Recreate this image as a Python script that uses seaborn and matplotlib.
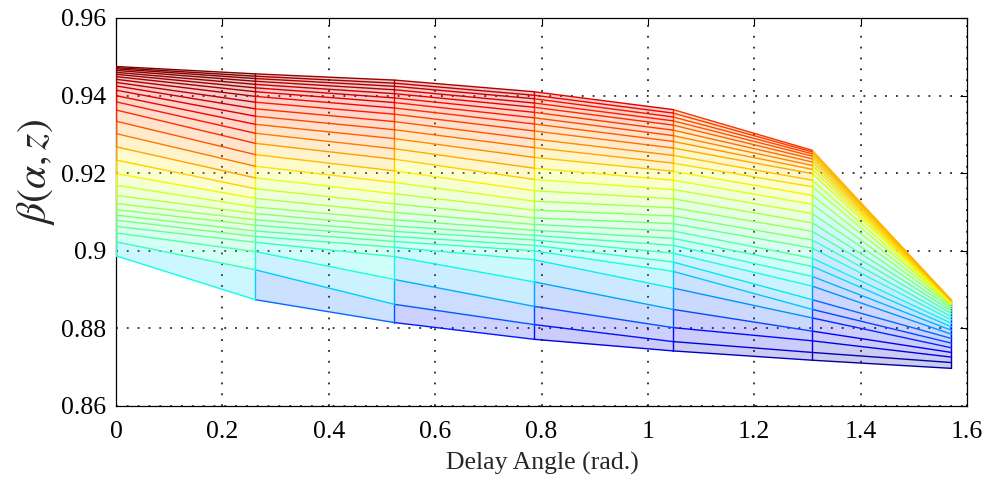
import numpy as np
import pandas as pd
import matplotlib
matplotlib.use("Agg")
import matplotlib.pyplot as plt
import seaborn as sns
from matplotlib.collections import PolyCollection
from matplotlib import colors as mcolors

# Delay angles (rad.) at which beta was evaluated
angles = [0.0, np.pi / 12, np.pi / 6, np.pi / 4, np.pi / 3, 5 * np.pi / 12, np.pi / 2]

# beta(alpha, z) for 29 z-curves (lowest curve first) at each delay angle
beta_a0 = [0.8987, 0.9023, 0.9046, 0.9063, 0.9079, 0.9092, 0.9106, 0.9122, 0.9143, 0.9169,
           0.9199, 0.9234, 0.9268, 0.9302, 0.9334, 0.9363, 0.9384, 0.9400, 0.9414, 0.9425,
           0.9434, 0.9442, 0.9449, 0.9455, 0.9460, 0.9465, 0.9469, 0.9472, 0.9475]
beta_a1 = [0.8874, 0.8951, 0.8998, 0.9022, 0.9037, 0.9051, 0.9066, 0.9080, 0.9096, 0.9113,
           0.9135, 0.9160, 0.9188, 0.9218, 0.9248, 0.9277, 0.9303, 0.9326, 0.9347, 0.9366,
           0.9383, 0.9398, 0.9410, 0.9420, 0.9429, 0.9437, 0.9444, 0.9450, 0.9456]
beta_a2 = [0.8815, 0.8862, 0.8926, 0.8985, 0.9009, 0.9024, 0.9037, 0.9050, 0.9064, 0.9080,
           0.9099, 0.9121, 0.9147, 0.9176, 0.9206, 0.9236, 0.9263, 0.9289, 0.9312, 0.9333,
           0.9352, 0.9368, 0.9382, 0.9394, 0.9405, 0.9415, 0.9424, 0.9432, 0.9440]
beta_a3 = [0.8772, 0.8810, 0.8857, 0.8920, 0.8977, 0.9000, 0.9014, 0.9028, 0.9040, 0.9053,
           0.9068, 0.9085, 0.9105, 0.9128, 0.9155, 0.9184, 0.9213, 0.9241, 0.9266, 0.9288,
           0.9309, 0.9327, 0.9343, 0.9357, 0.9370, 0.9381, 0.9392, 0.9401, 0.9410]
beta_a4 = [0.8742, 0.8766, 0.8802, 0.8849, 0.8904, 0.8947, 0.8971, 0.8994, 0.9014, 0.9032,
           0.9051, 0.9070, 0.9090, 0.9111, 0.9134, 0.9158, 0.9182, 0.9205, 0.9226, 0.9246,
           0.9265, 0.9282, 0.9297, 0.9311, 0.9324, 0.9335, 0.9345, 0.9355, 0.9364]
beta_a5 = [0.8718, 0.8738, 0.8768, 0.8793, 0.8827, 0.8849, 0.8874, 0.8909, 0.8934, 0.8960,
           0.8981, 0.9007, 0.9028, 0.9050, 0.9072, 0.9096, 0.9120, 0.9143, 0.9165, 0.9182,
           0.9199, 0.9210, 0.9220, 0.9229, 0.9237, 0.9244, 0.9250, 0.9255, 0.9259]
beta_a6 = [0.8697, 0.8712, 0.8726, 0.8738, 0.8750, 0.8762, 0.8774, 0.8785, 0.8795, 0.8804,
           0.8813, 0.8822, 0.8830, 0.8838, 0.8845, 0.8851, 0.8856, 0.8860, 0.8863, 0.8865,
           0.8867, 0.8868, 0.8869, 0.8870, 0.8871, 0.8871, 0.8872, 0.8872, 0.8873]

xticks = [0, 0.2, 0.4, 0.6, 0.8, 1.0, 1.2, 1.4, 1.6]
xticklabels = ["0", "0.2", "0.4", "0.6", "0.8", "1", "1.2", "1.4", "1.6"]
yticks = [0.86, 0.88, 0.90, 0.92, 0.94, 0.96]
yticklabels = ["0.86", "0.88", "0.9", "0.92", "0.94", "0.96"]

B = np.column_stack([beta_a0, beta_a1, beta_a2, beta_a3, beta_a4, beta_a5, beta_a6])
nz, na = B.shape
vmin, vmax = B.min(), B.max()

sns.set_style("white")
plt.rcParams["font.family"] = ["Liberation Serif", "DejaVu Serif"]
plt.rcParams["mathtext.fontset"] = "stix"

fig = plt.figure(figsize=(9.92, 4.8), dpi=100)
ax = fig.add_axes([116 / 992, 1 - 406 / 480, (967 - 116) / 992, (406 - 18) / 480])

cmap = matplotlib.colormaps["jet"]
norm = mcolors.Normalize(vmin=vmin, vmax=vmax)

# translucent faces of the mesh
polys, fcols = [], []
for k in range(na - 1):
    for i in range(nz - 1):
        quad = [(angles[k], B[i, k]), (angles[k + 1], B[i, k + 1]),
                (angles[k + 1], B[i + 1, k + 1]), (angles[k], B[i + 1, k])]
        polys.append(quad)
        c = cmap(norm(np.mean([B[i, k], B[i, k + 1], B[i + 1, k + 1], B[i + 1, k]])))
        fcols.append((c[0], c[1], c[2], 0.2))
ax.add_collection(PolyCollection(polys, facecolors=fcols, edgecolors="none", zorder=2))

# mesh edges, coloured by the value at their first vertex
rows = []
seg = 0
for i in range(nz):
    for k in range(na - 1):
        rows.append((seg, angles[k], B[i, k], B[i, k]))
        rows.append((seg, angles[k + 1], B[i, k + 1], B[i, k]))
        seg += 1
for k in range(na):
    for i in range(nz - 1):
        rows.append((seg, angles[k], B[i, k], B[i + 1, k]))
        rows.append((seg, angles[k], B[i + 1, k], B[i + 1, k]))
        seg += 1
df = pd.DataFrame(rows, columns=["seg", "x", "y", "c"])
sns.lineplot(data=df, x="x", y="y", hue="c", units="seg", estimator=None, sort=False,
             palette=cmap, hue_norm=norm, legend=False, linewidth=1.0, ax=ax,
             zorder=3)

ax.set_xlim(0, 1.6)
ax.set_ylim(0.86, 0.96)
ax.set_xticks(xticks)
ax.set_xticklabels(xticklabels)
ax.set_yticks(yticks)
ax.set_yticklabels(yticklabels)
ax.set_xlabel("")
ax.set_ylabel("")
ax.grid(True, color="black", linestyle=(0, (1, 5)), linewidth=1.3, alpha=0.85)
ax.set_axisbelow(True)
ax.tick_params(direction="in", length=5, width=0.8, top=True, right=True,
               labelsize=18.5, colors="black")
ax.tick_params(axis="x", pad=11)
ax.tick_params(axis="y", pad=7)
for s in ax.spines.values():
    s.set_color("black")
    s.set_linewidth(0.9)

fig.text(542 / 992, 1 - 463 / 480, "Delay Angle (rad.)", ha="center", va="center",
         fontsize=18.5)
fig.text(36 / 992, 1 - 172 / 480, r"$\beta(\alpha, z)$", ha="center", va="center",
         rotation=90, fontsize=30)

fig.savefig("out.png", dpi=100)
